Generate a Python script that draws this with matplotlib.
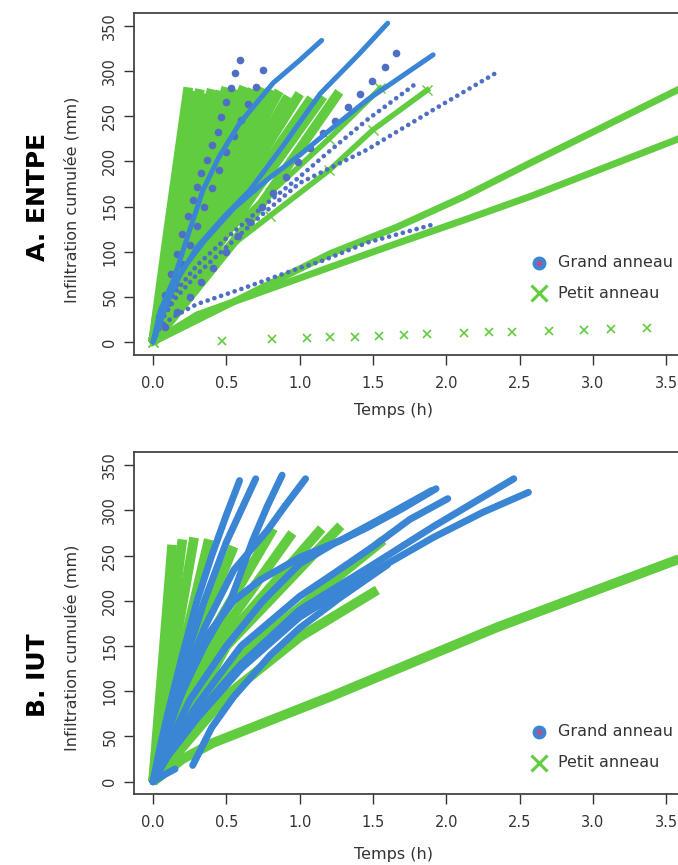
import matplotlib.pyplot as plt

BLUE = "#3a86d4"
DOT_BLUE = "#4f6fc4"
GREEN = "#62cc40"

# ---------------- A. ENTPE ----------------
# grand anneau, solid curves (t in h, I in mm)
a_b1_t = [0, 0.05, 0.14, 0.25, 0.34, 0.45, 0.59, 0.82, 1.0, 1.15]
a_b1_i = [0, 35, 69, 124, 168, 205, 242, 287, 312, 334]
a_b2_t = [0, 0.05, 0.15, 0.3, 0.48, 0.66, 0.89, 1.14, 1.4, 1.6]
a_b2_i = [0, 28, 65, 105, 138, 168, 218, 275, 318, 353]
a_b3_t = [0, 0.1, 0.2, 0.35, 0.55, 0.78, 1.0, 1.23, 1.46, 1.91]
a_b3_i = [0, 45, 80, 112, 148, 180, 207, 238, 268, 318]

# grand anneau, dense dotted curves
a_d4_t = [0, 0.05, 0.15, 0.3, 0.5, 0.75, 1.0, 1.23, 1.46, 1.8]
a_d4_i = [0, 25, 55, 85, 115, 150, 183, 215, 246, 287]
a_d5_t = [0, 0.05, 0.15, 0.3, 0.5, 0.75, 1.0, 1.46, 1.91, 2.35]
a_d5_i = [0, 22, 48, 75, 105, 142, 176, 213, 257, 299]
a_d6_t = [0, 0.05, 0.14, 0.3, 0.59, 1.0, 1.14, 1.46, 1.93]
a_d6_i = [0, 17, 28, 42, 58, 82, 89, 110, 131]

# grand anneau, sparse measurements
a_s1_t = [0.04, 0.08, 0.12, 0.16, 0.2, 0.24, 0.27, 0.3, 0.33, 0.37, 0.40, 0.44, 0.46, 0.5, 0.53, 0.56, 0.59]
a_s1_i = [28, 52, 75, 97, 120, 140, 157, 172, 187, 201, 218, 233, 249, 266, 281, 298, 312]
a_s2_t = [0.05, 0.1, 0.15, 0.2, 0.25, 0.3, 0.35, 0.4, 0.45, 0.5, 0.55, 0.6, 0.65, 0.7, 0.75]
a_s2_i = [21, 43, 64, 86, 107, 128, 150, 170, 190, 210, 228, 246, 264, 282, 301]
a_s3_t = [0.08, 0.16, 0.25, 0.33, 0.41, 0.5, 0.58, 0.66, 0.74, 0.82, 0.91, 0.99, 1.07, 1.16,
          1.24, 1.33, 1.41, 1.49, 1.58, 1.66]
a_s3_i = [17, 33, 50, 66, 82, 100, 117, 133, 149, 165, 183, 199, 215, 231,
          245, 260, 275, 289, 305, 320]

# petit anneau, fan of curves: (mid t, mid I, end t, end I)
a_g_mid_t = [0.1, 0.12, 0.14, 0.16, 0.18, 0.21, 0.23, 0.26, 0.29, 0.32, 0.35, 0.38, 0.41, 0.44, 0.48, 0.52, 0.56, 0.62]
a_g_mid_i = [120, 125, 130, 133, 135, 138, 135, 137, 140, 140, 142, 143, 145, 140, 140, 138, 135, 125]
a_g_end_t = [0.24, 0.28, 0.32, 0.36, 0.40, 0.46, 0.50, 0.56, 0.62, 0.68, 0.74, 0.80, 0.86, 0.92, 1.0, 1.08, 1.16, 1.27]
a_g_end_i = [282, 278, 280, 275, 280, 278, 282, 280, 283, 280, 282, 280, 278, 272, 275, 270, 272, 277]
a_g15_t = [0, 0.4, 0.8, 1.2, 1.55]
a_g15_i = [0, 105, 165, 225, 281]
a_g16_t = [0, 0.4, 0.8, 1.2, 1.5, 1.87]
a_g16_i = [0, 90, 140, 190, 235, 279]
a_g17_t = [0, 1.21, 1.66, 2.12, 2.57, 3.03, 3.6]
a_g17_i = [0, 98, 127, 161, 198, 235, 281]
a_g18_t = [0, 0.3, 1.21, 1.66, 2.12, 2.57, 3.03, 3.6]
a_g18_i = [0, 30, 83, 109, 135, 161, 190, 226]
a_sp_t = [0.47, 0.81, 1.05, 1.21, 1.38, 1.54, 1.71, 1.87, 2.12, 2.29, 2.45, 2.70, 2.94, 3.12, 3.37, 3.63]
a_sp_i = [1, 3, 4, 5, 6, 7, 8, 9, 10, 11, 11, 12, 13, 14, 15, 16]

# ---------------- B. IUT ----------------
b_blue_t = [
    [0, 0.05, 0.1, 0.2, 0.3, 0.4, 0.5, 0.59],
    [0, 0.05, 0.1, 0.2, 0.35, 0.5, 0.6, 0.70],
    [0, 0.1, 0.2, 0.35, 0.53, 0.68, 0.78, 0.88],
    [0, 0.1, 0.2, 0.35, 0.55, 0.78, 0.9, 1.04],
    [0, 0.1, 0.25, 0.5, 0.75, 1.0, 1.23, 1.46, 1.7, 1.93],
    [0, 0.1, 0.3, 0.6, 1.0, 1.23, 1.5, 1.75, 2.01],
    [0, 0.1, 0.3, 0.6, 1.0, 1.5, 1.91, 2.2, 2.46],
    [0, 0.1, 0.3, 0.6, 1.0, 1.5, 1.91, 2.25, 2.56],
    [0.27, 0.4, 0.55, 0.8, 1.0, 1.28, 1.6],
    [0, 0.15, 0.36, 0.55, 0.73, 1.0, 1.28, 1.6, 1.9],
    [0, 0.08, 0.15],
]
b_blue_i = [
    [0, 40, 75, 140, 200, 250, 295, 333],
    [0, 35, 65, 125, 200, 265, 300, 335],
    [0, 55, 100, 150, 201, 267, 305, 339],
    [0, 60, 110, 170, 234, 278, 305, 335],
    [0, 40, 90, 150, 200, 241, 263, 281, 302, 324],
    [0, 35, 85, 150, 205, 230, 260, 290, 313],
    [0, 30, 75, 130, 190, 240, 282, 310, 335],
    [0, 28, 70, 125, 182, 232, 270, 298, 320],
    [18, 60, 94, 140, 170, 204, 240],
    [0, 80, 160, 200, 223, 248, 267, 295, 322],
    [0, 8, 14],
]
b_green_t = [
    [0, 0.06, 0.13],
    [0, 0.09, 0.2],
    [0, 0.13, 0.28],
    [0, 0.18, 0.38],
    [0, 0.25, 0.55],
    [0, 0.35, 0.82],
    [0, 0.4, 0.95],
    [0, 0.45, 1.15],
    [0, 0.5, 1.28],
    [0, 0.6, 1.57],
    [0, 0.5, 1.0, 1.53],
    [0, 0.2, 0.41, 1.21, 2.35, 3.6],
]
b_green_i = [
    [0, 120, 262],
    [0, 125, 268],
    [0, 130, 270],
    [0, 130, 268],
    [0, 140, 260],
    [0, 150, 280],
    [0, 150, 275],
    [0, 150, 280],
    [0, 150, 283],
    [0, 140, 267],
    [0, 95, 160, 212],
    [0, 25, 43, 94, 171, 247],
]

ticks_x = [0.0, 0.5, 1.0, 1.5, 2.0, 2.5, 3.0, 3.5]
ticks_y = [0, 50, 100, 150, 200, 250, 300, 350]
legend_labels = ["Grand anneau", "Petit anneau"]

fig = plt.figure(figsize=(6.78, 8.65), dpi=100)
W, H = 678, 865
TXT = "#333333"


def make_axes(top_px, bottom_px, ylim):
    ax = fig.add_axes([134 / W, 1 - bottom_px / H, (700 - 134) / W, (bottom_px - top_px) / H])
    ax.set_xlim(-0.13, 3.73)
    ax.set_ylim(*ylim)
    ax.set_xticks(ticks_x)
    ax.set_xticklabels(["%.1f" % v for v in ticks_x])
    ax.set_yticks(ticks_y)
    ax.set_yticklabels([str(v) for v in ticks_y], rotation=90, va="center")
    ax.tick_params(direction="out", length=7, width=1, labelsize=10.5, colors=TXT, pad=5)
    ax.tick_params(axis="x", pad=8)
    ax.spines["right"].set_visible(False)
    for s in ["left", "top", "bottom"]:
        ax.spines[s].set_color("#444444")
        ax.spines[s].set_linewidth(1.3)
    return ax


def dotted(ax, t, i):
    ax.plot(t, i, color=DOT_BLUE, lw=3.4, linestyle=(0, (0.01, 1.5)),
            dash_capstyle="round", zorder=4)


def legend(ax, y1, y2):
    ax.plot([2.63], [y1], marker="o", ms=9, color=BLUE, ls="none", zorder=6)
    ax.plot([2.63], [y1], marker="o", ms=3, color="#c04a8a", ls="none", zorder=7)
    ax.plot([2.63], [y2], marker="x", ms=12, mew=2.2, color=GREEN, ls="none", zorder=6)
    ax.text(2.76, y1, legend_labels[0], fontsize=11.5, va="center", color=TXT)
    ax.text(2.76, y2, legend_labels[1], fontsize=11.5, va="center", color=TXT)


# ---- panel A
axA = make_axes(13, 355, (-14.4, 364.3))
for mt, mi, et, ei in zip(a_g_mid_t, a_g_mid_i, a_g_end_t, a_g_end_i):
    axA.plot([0, mt, et], [0, mi, ei], color=GREEN, lw=7, solid_capstyle="butt", zorder=2)
for t, i in [(a_g15_t, a_g15_i), (a_g16_t, a_g16_i)]:
    axA.plot(t, i, color=GREEN, lw=4, zorder=2)
    axA.plot(t, i, color=GREEN, lw=0, marker="x", ms=7, zorder=2)
for t, i in [(a_g17_t, a_g17_i), (a_g18_t, a_g18_i)]:
    axA.plot(t, i, color=GREEN, lw=5, zorder=2)
axA.plot(a_sp_t, a_sp_i, ls="none", marker="x", ms=6, mew=1.2, color=GREEN, zorder=2)

for t, i in [(a_d4_t, a_d4_i), (a_d5_t, a_d5_i), (a_d6_t, a_d6_i)]:
    dotted(axA, t, i)
for t, i in [(a_s1_t, a_s1_i), (a_s2_t, a_s2_i), (a_s3_t, a_s3_i)]:
    axA.plot(t, i, ls="none", marker="o", ms=4.5, color=DOT_BLUE, zorder=4)
for t, i in [(a_b1_t, a_b1_i), (a_b2_t, a_b2_i), (a_b3_t, a_b3_i)]:
    axA.plot(t, i, color=BLUE, lw=3.6, solid_capstyle="round", zorder=5)
legend(axA, 88, 54)

# ---- panel B
axB = make_axes(452, 794, (-13.6, 364.6))
for t, i in zip(b_green_t, b_green_i):
    axB.plot(t, i, color=GREEN, lw=7, solid_capstyle="butt", zorder=2)
for t, i in zip(b_blue_t, b_blue_i):
    axB.plot(t, i, color=BLUE, lw=5, solid_capstyle="round", zorder=5)
legend(axB, 55, 21)

# labels
for title, ty, ly, yl in [("A. ENTPE", 197, 410, 200), ("B. IUT", 675, 855, 648)]:
    fig.text(38 / W, 1 - ty / H, title, rotation=90, fontsize=18, fontweight="bold",
             ha="center", va="center")
    fig.text(393 / W, 1 - ly / H, "Temps (h)", fontsize=11.5, ha="center", va="center",
             color=TXT)
    fig.text(72 / W, 1 - yl / H, "Infiltration cumulée (mm)", rotation=90, fontsize=11.5,
             ha="center", va="center", color=TXT)

fig.savefig("out.png", dpi=100)
